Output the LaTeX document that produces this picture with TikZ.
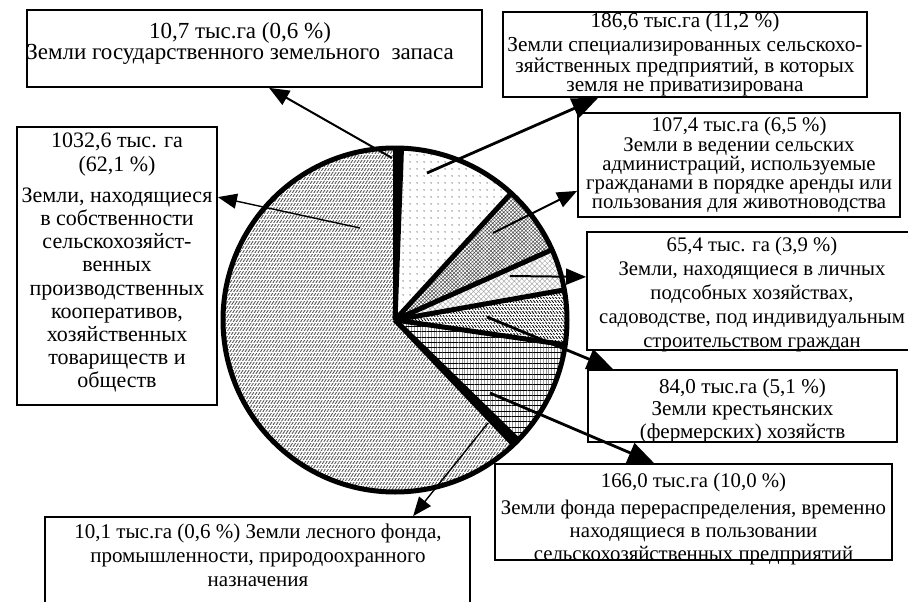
\documentclass[tikz,border=0pt]{standalone}
\usepackage{fontspec}
\setmainfont{Liberation Serif}
\usetikzlibrary{arrows.meta,patterns,patterns.meta}
\begin{document}
\begin{tikzpicture}[x=1pt,y=-1pt,
  frame/.style={draw, line width=1.8pt, inner sep=0pt, fill=white},
  lbl/.style 2 args={font=\fontsize{#1}{#2}\selectfont, align=center, inner sep=0pt, anchor=north},
  spoke/.style={line width=5pt, line join=round},
  arrbig/.style={line width=2.8pt, -{Triangle[length=26pt,width=21pt]}},
  arrmid/.style={line width=2pt, -{Triangle[length=20pt,width=16pt]}},
  arrthin/.style={line width=1.4pt, -{Triangle[length=19pt,width=15pt]}}]
\useasboundingbox (0,0) rectangle (908,602);
\fill[white] (0,0) rectangle (908,602);

\coordinate (C) at (395,320);
\def\R{172}

% ---- pie slices (angles mirrored because y points down) ----
% cooperatives 62.1 %
\path[pattern={Lines[angle=58,distance=2.6pt,line width=0.9pt]}, pattern color=black!65]
  (C) -- ++(46.44:\R) arc[start angle=46.44, end angle=270, radius=\R] -- cycle;
\path[pattern={Lines[angle=0,distance=4.3pt,line width=1.0pt]}, pattern color=white]
  (C) -- ++(46.44:\R) arc[start angle=46.44, end angle=270, radius=\R] -- cycle;
% specialised 11.2 %
\path[pattern={Dots[distance=6.5pt,radius=0.6pt]}]
  (C) -- ++(-87.84:\R) arc[start angle=-87.84, end angle=-47.52, radius=\R] -- cycle;
% village administrations 6.5 %
\path[pattern={Hatch[angle=45,distance=2.6pt,line width=0.5pt]}, pattern color=black!70]
  (C) -- ++(-47.52:\R) arc[start angle=-47.52, end angle=-24.12, radius=\R] -- cycle;
% personal plots 3.9 %
\path[pattern={Hatch[angle=45,distance=3.6pt,line width=0.5pt]}, pattern color=gray!65]
  (C) -- ++(-24.12:\R) arc[start angle=-24.12, end angle=-10.08, radius=\R] -- cycle;
% farmers 5.1 %
\path[pattern={Lines[angle=-55,distance=2.5pt,line width=0.8pt]}, pattern color=black]
  (C) -- ++(-10.08:\R) arc[start angle=-10.08, end angle=8.28, radius=\R] -- cycle;
\path[pattern={Lines[angle=0,distance=3.6pt,line width=0.6pt]}, pattern color=white]
  (C) -- ++(-10.08:\R) arc[start angle=-10.08, end angle=8.28, radius=\R] -- cycle;
% redistribution fund 10.0 %
\path[pattern={Lines[angle=90,distance=2.8pt,line width=0.7pt]}, pattern color=gray!80]
  (C) -- ++(8.28:\R) arc[start angle=8.28, end angle=44.28, radius=\R] -- cycle;
\path[pattern={Lines[angle=0,distance=5.3pt,line width=0.8pt]}, pattern color=black]
  (C) -- ++(8.28:\R) arc[start angle=8.28, end angle=44.28, radius=\R] -- cycle;
% state reserve 0.6 % and forest 0.6 %
\fill[black] (C) -- ++(-90:\R) arc[start angle=-90, end angle=-87.84, radius=\R] -- cycle;
\fill[black] (C) -- ++(44.28:\R) arc[start angle=44.28, end angle=46.44, radius=\R] -- cycle;

% ---- slice borders ----
\foreach \a in {-90,-87.84,-47.52,-24.12,-10.08,8.28,44.28,46.44}
  \draw[spoke] (C) -- ++(\a:\R);
\draw[line width=5pt] (C) circle[radius=\R];

% ---- boxes ----
\node[frame, minimum width=455pt, minimum height=77pt] (b1) at (254.5,48.5) {};
\node[frame, minimum width=364pt, minimum height=85pt] (b2) at (685,54.5) {};
\node[frame, minimum width=322pt, minimum height=104pt] (b3) at (739,165) {};
\node[frame, minimum width=340pt, minimum height=118pt] (b4) at (757,291) {};
\node[frame, minimum width=309pt, minimum height=72pt] (b5) at (742.5,406) {};
\node[frame, minimum width=397pt, minimum height=96pt] (b6) at (693.5,512) {};
\node[frame, minimum width=425pt, minimum height=100pt] (b7) at (257.5,567) {};
\node[frame, minimum width=200pt, minimum height=278pt] (b8) at (117,266) {};

% ---- texts ----
\node[lbl={23}{21}] (t1) at (240,22) {10,7 тыс.га (0,6 \%)\\Земли государственного земельного\ \ запаса};
\node[lbl={21.3}{19}] (t2) at (685,13) {186,6 тыс.га (11,2 \%)\\[5pt]Земли специализированных сельскохо-\\зяйственных предприятий, в которых\\земля не приватизирована};
\node[lbl={20.8}{19}] (t3) at (739,117) {107,4 тыс.га (6,5 \%)\\[0.5pt]Земли в ведении сельских\\администраций, используемые\\гражданами в порядке аренды или\\пользования для животноводства};
\node[lbl={20.7}{24}] (t4) at (752,237) {65,4 тыс. га (3,9 \%)\\Земли, находящиеся в личных\\подсобных хозяйствах,\\садоводстве, под индивидуальным\\строительством граждан};
\node[lbl={21.1}{22.5}] (t5) at (742.5,378.5) {84,0 тыс.га (5,1 \%)\\Земли крестьянских\\(фермерских) хозяйств};
\node[lbl={20.8}{23}] (t6) at (693.5,473) {166,0 тыс.га (10,0 \%)\\[4pt]Земли фонда перераспределения, временно\\находящиеся в пользовании\\сельскохозяйственных предприятий};
\node[lbl={21}{24}] (t7) at (258,523.5) {10,1 тыс.га (0,6 \%) Земли лесного фонда,\\промышленности, природоохранного\\назначения};
\node[lbl={22}{23.2}] (t8) at (117,133) {1032,6 тыс. га\\(62,1 \%)\\[8pt]Земли, находящиеся\\в собственности\\сельскохозяйст-\\венных\\производственных\\кооперативов,\\хозяйственных\\товариществ и\\обществ};

% ---- connectors ----
\coordinate (p1) at (392,158);
\coordinate (p2) at (427,173);
\coordinate (p3) at (493,233);
\coordinate (p4) at (510,276);
\coordinate (p5) at (487,317);
\coordinate (p6) at (490,393);
\coordinate (p7) at (488,423);
\coordinate (p8) at (360,228);
\draw[arrmid] (p1) -- ([xshift=243pt]b1.south west);
\draw[arrbig] (p2) -- ([xshift=96pt]b2.south west);
\draw[arrmid] (p3) -- ([yshift=27pt]b3.south west);
\draw[arrmid] (p4) -- ([yshift=74pt]b4.south west);
\draw[arrbig] (p5) -- ([xshift=26pt]b5.north west);
\draw[arrbig] (p6) -- ([xshift=160pt]b6.north west);
\draw[arrthin] (p7) -- ([xshift=369pt]b7.north west);
\draw[arrthin] (p8) -- ([yshift=-71pt]b8.north east);
\end{tikzpicture}
\end{document}
